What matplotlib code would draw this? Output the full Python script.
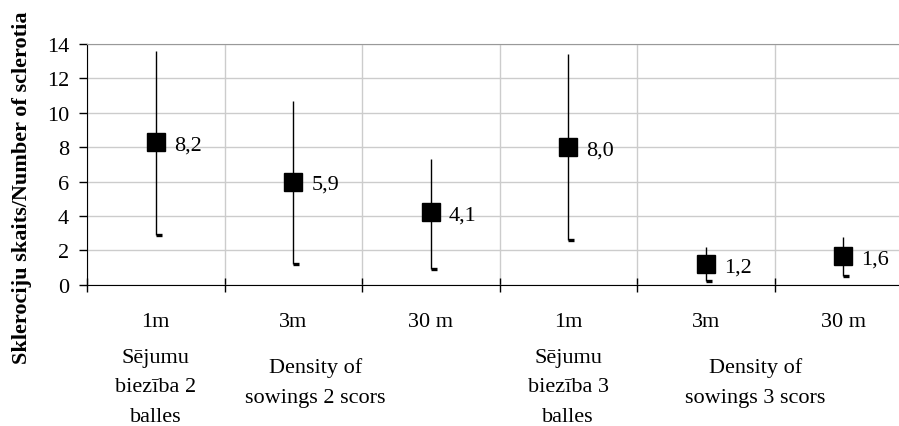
import matplotlib
matplotlib.use("Agg")
import matplotlib.pyplot as plt
from matplotlib.lines import TICKRIGHT
import matplotlib.transforms as mtransforms

categories = ["1m", "3m", "30 m", "1m", "3m", "30 m"]
means = [8.3, 6.0, 4.2, 8.0, 1.2, 1.65]
mean_labels = ["8,2", "5,9", "4,1", "8,0", "1,2", "1,6"]
highs = [13.6, 10.7, 7.3, 13.4, 2.2, 2.75]
lows = [2.9, 1.2, 0.9, 2.6, 0.2, 0.5]
group_labels = ["Sējumu\nbiezība 2\nballes", "Density of\nsowings 2 scors",
                "Sējumu\nbiezība 3\nballes", "Density of\nsowings 3 scors"]
group_label_x = [0.0, 1.16, 3.0, 4.36]
y_ticks = [0, 2, 4, 6, 8, 10, 12, 14]

plt.rcParams['font.family'] = ['Liberation Serif', 'DejaVu Serif']

fig = plt.figure(figsize=(8.99, 4.27), dpi=100)
ax = fig.add_axes([87/899, 1-285.7/427, (912-87)/899, (285.7-45)/427])

x = list(range(len(categories)))
ax.vlines(x, lows, highs, color='black', lw=1, zorder=3)
ax.plot(x, lows, linestyle='none', marker=TICKRIGHT, markersize=4.5, mew=2.4,
        color='black', zorder=3)
ax.plot(x, means, linestyle='none', marker='s', markersize=13, color='black', zorder=4)
for xi, m, lab in zip(x, means, mean_labels):
    ax.annotate(lab, (xi, m), xytext=(13, -2), textcoords='offset points',
                ha='left', va='center', fontsize=16)

ax.set_xlim(-0.5, len(categories) - 0.5)
ax.set_ylim(0, 14)
ax.set_yticks(y_ticks)
ax.set_yticklabels([str(v) for v in y_ticks])
ax.tick_params(axis='y', direction='out', length=6, width=1, pad=7, labelsize=16)

ax.set_xticks([i + 0.5 for i in range(-1, len(categories))])
ax.set_xticklabels([])
ax.set_xticks(x, minor=True)
ax.set_xticklabels(categories, minor=True)
ax.tick_params(axis='x', which='major', direction='inout', length=10, width=1)
ax.tick_params(axis='x', which='minor', length=0, pad=20, labelsize=16)

ax.grid(True, which='major', color='#cccccc', lw=1, zorder=0)
ax.set_axisbelow(True)
ax.spines['right'].set_visible(False)
ax.spines['top'].set_color('#999999')
ax.spines['left'].set_color('black')
ax.spines['bottom'].set_color('black')

trans = mtransforms.blended_transform_factory(ax.transData, fig.transFigure)
for gx, gl in zip(group_label_x, group_labels):
    ypix = 388 if 'Sējumu' in gl else 383
    ax.text(gx, 1 - ypix/427, gl, transform=trans, ha='center', va='center',
            fontsize=16, linespacing=1.75, clip_on=False)

fig.text(0.024, 1 - 188/427, "Sklerociju skaits/Number of sclerotia", rotation=90,
         ha='center', va='center', fontsize=16, fontweight='bold')

fig.savefig("out.png", dpi=100)
